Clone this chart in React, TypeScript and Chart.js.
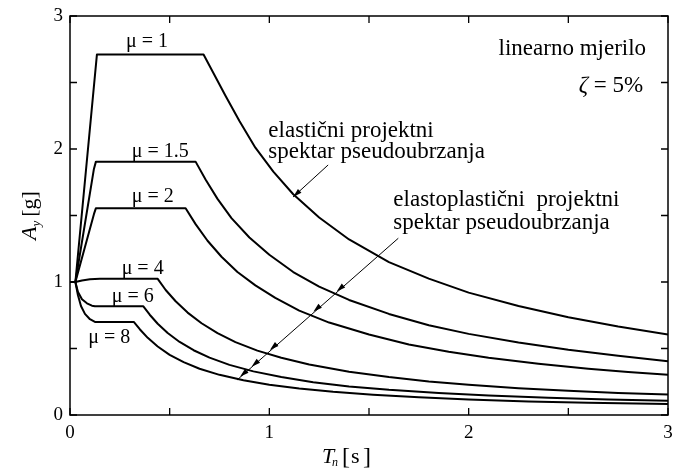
import React, { useEffect, useRef } from "react";
import { Chart, registerables } from "chart.js";

Chart.register(...registerables);

// ---------- data (period Tn [s], pseudo-acceleration Ay [g]) ----------
const mu1T = [0, 0.027, 0.135, 0.67, 0.72, 0.78, 0.85, 0.93, 1.02, 1.12, 1.25, 1.4, 1.6, 1.8, 2.0, 2.25, 2.5, 2.75, 3.0];
const mu1A = [1, 1, 2.71, 2.71, 2.57, 2.4, 2.21, 2.01, 1.83, 1.66, 1.485, 1.32, 1.15, 1.025, 0.92, 0.82, 0.735, 0.665, 0.605];

const mu15T = [0, 0.027, 0.12, 0.13, 0.63, 0.68, 0.74, 0.81, 0.9, 1.0, 1.12, 1.25, 1.4, 1.6, 1.8, 2.0, 2.25, 2.5, 2.75, 3.0];
const mu15A = [1, 1, 1.85, 1.905, 1.905, 1.77, 1.625, 1.48, 1.335, 1.205, 1.075, 0.965, 0.865, 0.76, 0.675, 0.61, 0.545, 0.49, 0.445, 0.405];

const mu2T = [0, 0.027, 0.12, 0.13, 0.58, 0.63, 0.69, 0.76, 0.84, 0.93, 1.03, 1.15, 1.3, 1.5, 1.7, 1.9, 2.1, 2.35, 2.6, 2.8, 3.0];
const mu2A = [1, 1, 1.51, 1.555, 1.555, 1.435, 1.31, 1.19, 1.075, 0.975, 0.88, 0.785, 0.695, 0.605, 0.53, 0.475, 0.43, 0.385, 0.348, 0.323, 0.302];

const mu4T = [0, 0.027, 0.06, 0.1, 0.15, 0.44, 0.48, 0.53, 0.59, 0.66, 0.74, 0.83, 0.94, 1.06, 1.2, 1.4, 1.6, 1.8, 2.0, 2.25, 2.5, 2.75, 3.0];
const mu4A = [1, 1, 1.012, 1.02, 1.024, 1.024, 0.94, 0.855, 0.77, 0.69, 0.615, 0.548, 0.484, 0.43, 0.38, 0.325, 0.285, 0.252, 0.228, 0.202, 0.182, 0.165, 0.154];

const mu6T = [0, 0.027, 0.04, 0.06, 0.085, 0.11, 0.125, 0.368, 0.4, 0.44, 0.49, 0.55, 0.62, 0.7, 0.8, 0.92, 1.06, 1.22, 1.4, 1.6, 1.85, 2.1, 2.4, 2.7, 3.0];
const mu6A = [1, 1, 0.925, 0.87, 0.84, 0.822, 0.817, 0.817, 0.754, 0.686, 0.616, 0.549, 0.487, 0.431, 0.377, 0.328, 0.285, 0.247, 0.215, 0.189, 0.165, 0.147, 0.13, 0.117, 0.107];

const mu8T = [0, 0.027, 0.04, 0.055, 0.075, 0.1, 0.125, 0.32, 0.35, 0.39, 0.44, 0.5, 0.57, 0.65, 0.75, 0.87, 1.0, 1.15, 1.32, 1.52, 1.75, 2.0, 2.3, 2.6, 3.0];
const mu8A = [1, 1, 0.9, 0.82, 0.76, 0.72, 0.7, 0.7, 0.645, 0.58, 0.515, 0.452, 0.397, 0.348, 0.302, 0.262, 0.228, 0.199, 0.174, 0.152, 0.133, 0.117, 0.102, 0.092, 0.082];

const seriesT = [mu1T, mu15T, mu2T, mu4T, mu6T, mu8T];
const seriesA = [mu1A, mu15A, mu2A, mu4A, mu6A, mu8A];

// curve labels
const muLabels = ["μ = 1", "μ = 1.5", "μ = 2", "μ = 4", "μ = 6", "μ = 8"];
const muLabelT = [0.281, 0.31, 0.31, 0.259, 0.209, 0.092];
const muLabelA = [2.767, 1.942, 1.6, 1.058, 0.852, 0.544];

// axis
const tickStep = 0.5;
const axisMin = 0;
const axisMax = 3;

// notes
const noteScale = "linearno mjerilo";
const noteDampSym = "ζ";
const noteDampVal = " = 5%";
const elasticLines = ["elastični projektni", "spektar pseudoubrzanja"];
const elastoLines = ["elastoplastični  projektni", "spektar pseudoubrzanja"];

// note anchors (data units)
const scaleNoteAt = [2.89, 2.707];
const dampNoteAt = [2.875, 2.431];
const elasticTextAt = [0.995, 2.092, 1.936];
const elastoTextAt = [1.622, 1.575, 1.395];

// arrows (data units)
const elasticArrow = [[1.295, 1.88], [1.119, 1.639]];
const elastoArrow = [[1.647, 1.329], [0.838, 0.263]];
const elastoHeads = [[1.338, 0.929], [1.221, 0.777], [1.003, 0.489], [0.911, 0.363], [0.853, 0.288]];

const SERIF = '"Liberation Serif", "Times New Roman", serif';

function drawHead(ctx: CanvasRenderingContext2D, tx: number, ty: number, ang: number) {
  const len = 9, hw = 2.6;
  const dx = Math.cos(ang), dy = Math.sin(ang);
  const bx = tx - dx * len, by = ty - dy * len;
  ctx.beginPath();
  ctx.moveTo(tx, ty);
  ctx.lineTo(bx - dy * hw, by + dx * hw);
  ctx.lineTo(bx + dy * hw, by - dx * hw);
  ctx.closePath();
  ctx.fill();
}

const overlay = {
  id: "overlay",
  afterDatasetsDraw(chart: any) {
    const { ctx, chartArea: a, scales } = chart;
    const x = scales.x, y = scales.y;
    const px = (v: number) => x.getPixelForValue(v);
    const py = (v: number) => y.getPixelForValue(v);
    ctx.save();
    ctx.strokeStyle = "#000";
    ctx.fillStyle = "#000";
    // frame
    ctx.lineWidth = 1.5;
    ctx.strokeRect(a.left, a.top, a.right - a.left, a.bottom - a.top);
    // inward ticks
    ctx.lineWidth = 1.3;
    ctx.beginPath();
    for (let v = axisMin; v <= axisMax + 1e-9; v += tickStep) {
      const X = px(v), Y = py(v);
      ctx.moveTo(X, a.bottom); ctx.lineTo(X, a.bottom - 7);
      ctx.moveTo(X, a.top); ctx.lineTo(X, a.top + 7);
      ctx.moveTo(a.left, Y); ctx.lineTo(a.left + 7, Y);
      ctx.moveTo(a.right, Y); ctx.lineTo(a.right - 7, Y);
    }
    ctx.stroke();

    // arrows
    ctx.lineWidth = 1;
    const drawArrowLine = (pts: number[][]) => {
      ctx.beginPath();
      ctx.moveTo(px(pts[0][0]), py(pts[0][1]));
      ctx.lineTo(px(pts[1][0]), py(pts[1][1]));
      ctx.stroke();
      return Math.atan2(py(pts[1][1]) - py(pts[0][1]), px(pts[1][0]) - px(pts[0][0]));
    };
    const a1 = drawArrowLine(elasticArrow);
    drawHead(ctx, px(elasticArrow[1][0]), py(elasticArrow[1][1]), a1);
    const a2 = drawArrowLine(elastoArrow);
    for (const h of elastoHeads) drawHead(ctx, px(h[0]), py(h[1]), a2);

    // curve labels
    ctx.textBaseline = "alphabetic";
    ctx.textAlign = "left";
    ctx.font = `20px ${SERIF}`;
    muLabels.forEach((t, i) => ctx.fillText(t, px(muLabelT[i]), py(muLabelA[i])));

    // notes
    ctx.font = `23px ${SERIF}`;
    ctx.textAlign = "right";
    ctx.fillText(noteScale, px(scaleNoteAt[0]), py(scaleNoteAt[1]));
    const valW = ctx.measureText(noteDampVal).width;
    ctx.fillText(noteDampVal, px(dampNoteAt[0]), py(dampNoteAt[1]));
    ctx.font = `italic 23px ${SERIF}`;
    ctx.fillText(noteDampSym, px(dampNoteAt[0]) - valW, py(dampNoteAt[1]));

    ctx.textAlign = "left";
    ctx.font = `23px ${SERIF}`;
    ctx.fillText(elasticLines[0], px(elasticTextAt[0]), py(elasticTextAt[1]));
    ctx.fillText(elasticLines[1], px(elasticTextAt[0]), py(elasticTextAt[2]));
    ctx.fillText(elastoLines[0], px(elastoTextAt[0]), py(elastoTextAt[1]));
    ctx.fillText(elastoLines[1], px(elastoTextAt[0]), py(elastoTextAt[2]));

    // x-axis title: T_n [s]
    const x0 = px(1.264);
    const by = a.bottom + 48;
    ctx.font = `italic 22px ${SERIF}`;
    ctx.fillText("T", x0, by);
    ctx.font = `italic 12px ${SERIF}`;
    ctx.fillText("n", x0 + 10, by + 3);
    ctx.font = `24px ${SERIF}`;
    ctx.fillText("[", x0 + 20, by + 1);
    ctx.fillText("]", x0 + 41, by + 1);
    ctx.font = `22px ${SERIF}`;
    ctx.fillText("s", x0 + 29, by);

    // y-axis title: A_y [g] rotated
    ctx.save();
    ctx.translate(a.left - 34, (a.top + a.bottom) / 2);
    ctx.rotate(-Math.PI / 2);
    ctx.font = `italic 22px ${SERIF}`;
    const wA = ctx.measureText("A").width;
    ctx.font = `italic 13px ${SERIF}`;
    const wy = ctx.measureText("y").width;
    ctx.font = `22px ${SERIF}`;
    const wg = ctx.measureText("[g]").width;
    const total = wA + wy + 4 + wg;
    let rx = -total / 2;
    ctx.textAlign = "left";
    ctx.font = `italic 22px ${SERIF}`;
    ctx.fillText("A", rx, 0);
    rx += wA;
    ctx.font = `italic 13px ${SERIF}`;
    ctx.fillText("y", rx, 4);
    rx += wy + 4;
    ctx.font = `22px ${SERIF}`;
    ctx.fillText("[g]", rx, 0);
    ctx.restore();

    ctx.restore();
  },
};

export default function App() {
  const ref = useRef<HTMLCanvasElement | null>(null);
  useEffect(() => {
    document.body.style.margin = "0";
    const canvas = ref.current;
    if (!canvas) return;
    const datasets = seriesT.map((T, i) => ({
      label: muLabels[i],
      data: T.map((t, j) => ({ x: t, y: seriesA[i][j] })),
      showLine: true,
      borderColor: "#000",
      borderWidth: 2,
      pointRadius: 0,
      tension: 0,
      fill: false,
      borderJoinStyle: "round" as const,
    }));
    const tickFont = { family: SERIF, size: 19 };
    const chart = new Chart(canvas, {
      type: "scatter",
      data: { datasets },
      options: {
        animation: false,
        responsive: false,
        events: [],
        layout: { padding: { left: 0, top: 16, right: 5, bottom: 0 } },
        plugins: { legend: { display: false }, tooltip: { enabled: false } },
        scales: {
          x: {
            type: "linear",
            min: axisMin,
            max: axisMax,
            grid: { display: false, drawTicks: false },
            border: { display: false },
            ticks: {
              stepSize: tickStep,
              color: "#000",
              font: tickFont,
              padding: 7,
              maxRotation: 0,
              autoSkip: false,
              callback: (v: any) => (Number.isInteger(v) ? String(v) : ""),
            },
            afterFit: (s: any) => { s.height = 56; s.paddingLeft = 0; s.paddingRight = 0; },
          },
          y: {
            type: "linear",
            min: axisMin,
            max: axisMax,
            grid: { display: false, drawTicks: false },
            border: { display: false },
            ticks: {
              stepSize: tickStep,
              color: "#000",
              font: tickFont,
              padding: 7,
              autoSkip: false,
              callback: (v: any) => (Number.isInteger(v) ? String(v) : ""),
            },
            afterFit: (s: any) => { s.width = 70; s.paddingTop = 0; s.paddingBottom = 0; },
          },
        },
      },
      plugins: [overlay],
    });
    return () => chart.destroy();
  }, []);
  return (
    <div style={{ width: 673, height: 471, background: "#fff" }}>
      <canvas ref={ref} width={673} height={471} style={{ display: "block" }} />
    </div>
  );
}
